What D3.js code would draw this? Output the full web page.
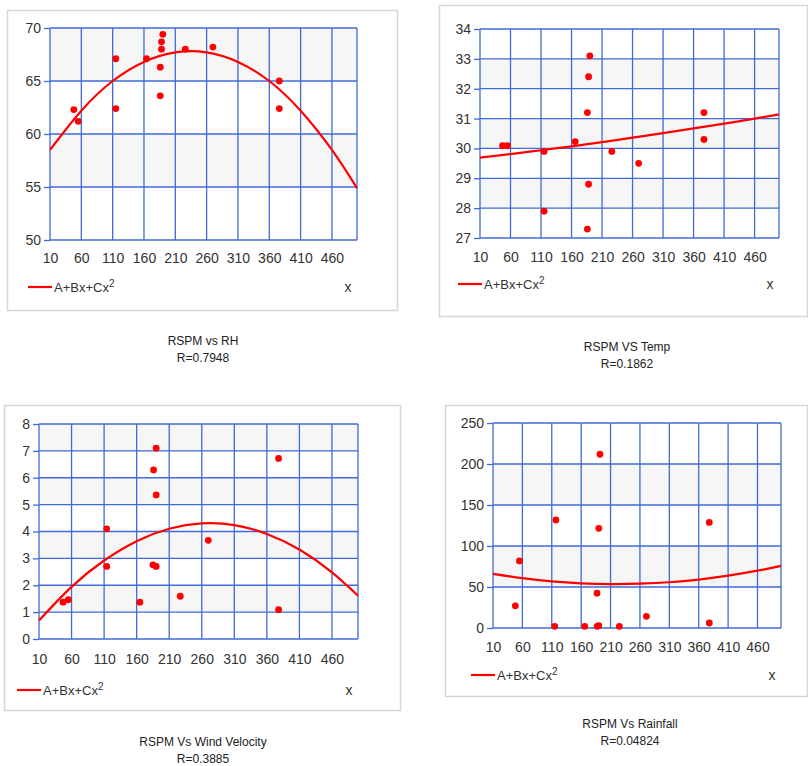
<!DOCTYPE html>
<html>
<head>
<meta charset="utf-8">
<script src="https://cdn.jsdelivr.net/npm/d3@7"></script>
<style>
  body { margin: 0; background: #fff; }
  svg text { font-family: "Liberation Sans", Arial, sans-serif; }
</style>
</head>
<body>
<script>

// x axis shared by all four fits (RSPM)
const xTicks = [10, 60, 110, 160, 210, 260, 310, 360, 410, 460];
const xMax = 500;
const curveX = [10, 60, 110, 160, 210, 260, 310, 360, 410, 460, 500];

// RSPM vs RH
const rhX = [48, 55, 115, 115, 164, 186, 186, 188, 188, 190, 226, 270, 376, 376];
const rhY = [62.3, 61.2, 67.1, 62.4, 67.1, 66.3, 63.6, 68.0, 68.7, 69.4, 68.0, 68.2, 65.0, 62.4];
const rhFit = [58.5, 62.2, 65.0, 66.8, 67.7, 67.7, 66.8, 65.0, 62.2, 58.5, 54.9];
const rhTicks = [50, 55, 60, 65, 70];

// RSPM vs Temp
const tempX = [47, 55, 115, 115, 166, 186, 186, 188, 188, 190, 226, 270, 377, 377];
const tempY = [30.09, 30.09, 29.9, 27.9, 30.23, 31.2, 27.3, 32.4, 28.8, 33.1, 29.9, 29.5, 31.2, 30.3];
const tempFit = [29.69, 29.81, 29.94, 30.07, 30.21, 30.36, 30.51, 30.67, 30.83, 31.0, 31.14];
const tempTicks = [27, 28, 29, 30, 31, 32, 33, 34];

// RSPM vs Wind Velocity
const windX = [47, 55, 114, 114, 165, 185, 186, 190, 190, 190, 227, 270, 378, 378];
const windY = [1.37, 1.46, 4.10, 2.70, 1.37, 2.76, 6.29, 7.10, 5.36, 2.70, 1.59, 3.67, 6.72, 1.09];
const windFit = [0.69, 1.94, 2.92, 3.64, 4.10, 4.30, 4.24, 3.91, 3.33, 2.48, 1.61];
const windTicks = [0, 1, 2, 3, 4, 5, 6, 7, 8];

// RSPM vs Rainfall
const rainX = [48, 55, 115, 117, 166, 187, 187, 190, 190, 192, 225, 271, 378, 378];
const rainY = [27.1, 81.8, 2, 131.7, 2, 2, 42.5, 3, 121.6, 211.9, 2, 14.2, 128.8, 6.1];
const rainFit = [66.0, 60.8, 56.9, 54.5, 53.5, 54.0, 55.8, 59.1, 63.8, 69.9, 75.8];
const rainTicks = [0, 50, 100, 150, 200, 250];

const captions = [
  ["RSPM vs RH", "R=0.7948"],
  ["RSPM VS Temp", "R=0.1862"],
  ["RSPM Vs Wind Velocity", "R=0.3885"],
  ["RSPM Vs Rainfall", "R=0.04824"]
];

// layout of each panel: frame box, plot area, caption spot
const panels = [
  { xs: rhX, ys: rhY, fit: rhFit, ticks: rhTicks, cap: captions[0],
    box: [7, 10, 397, 310], plot: [50, 28, 357, 240], capX: 203, capY: 345, lab: 13, leg: 47 },
  { xs: tempX, ys: tempY, fit: tempFit, ticks: tempTicks, cap: captions[1],
    box: [439, 5, 807, 316], plot: [480, 29, 779, 238], capX: 627, capY: 351, lab: 14, leg: 46 },
  { xs: windX, ys: windY, fit: windFit, ticks: windTicks, cap: captions[2],
    box: [4, 405, 400, 710], plot: [39, 424, 358, 639], capX: 203, capY: 746, lab: 15, leg: 51 },
  { xs: rainX, ys: rainY, fit: rainFit, ticks: rainTicks, cap: captions[3],
    box: [445, 405, 807, 696], plot: [493, 423, 781, 628], capX: 630, capY: 728, lab: 14, leg: 47 }
];

const gridColour = "#3f6bd6";
const bandColour = "#f6f6f6";
const red = "#ff0000";

const svg = d3.select("body").append("svg")
  .attr("width", 808)
  .attr("height", 766);

panels.forEach(p => {
  const [bx0, by0, bx1, by1] = p.box;
  const [px0, py0, px1, py1] = p.plot;

  // panel frame
  svg.append("rect")
    .attr("x", bx0 + 0.5).attr("y", by0 + 0.5)
    .attr("width", bx1 - bx0).attr("height", by1 - by0)
    .attr("fill", "#fff")
    .attr("stroke", "#d6d6d6")
    .attr("stroke-width", 1.5);

  const x = d3.scaleLinear().domain([xTicks[0], xMax]).range([px0, px1]);
  const y = d3.scaleLinear().domain(d3.extent(p.ticks)).range([py1, py0]);

  const g = svg.append("g");

  // alternating grey bands
  for (let i = 1; i < p.ticks.length - 1; i += 2) {
    g.append("rect")
      .attr("x", px0).attr("width", px1 - px0)
      .attr("y", y(p.ticks[i + 1])).attr("height", y(p.ticks[i]) - y(p.ticks[i + 1]))
      .attr("fill", bandColour);
  }

  // grid lines
  g.selectAll(".vg").data(xTicks.concat([xMax])).join("line")
    .attr("x1", d => x(d)).attr("x2", d => x(d))
    .attr("y1", py0).attr("y2", py1)
    .attr("stroke", gridColour).attr("stroke-width", 1.3);
  g.selectAll(".hg").data(p.ticks).join("line")
    .attr("x1", px0).attr("x2", px1)
    .attr("y1", d => y(d)).attr("y2", d => y(d))
    .attr("stroke", gridColour).attr("stroke-width", 1.3);

  // y axis
  const ya = g.append("g")
    .attr("transform", `translate(${px0},0)`)
    .call(d3.axisLeft(y).tickValues(p.ticks).tickSize(6).tickPadding(3).tickFormat(d3.format("d")));
  ya.select(".domain").remove();
  ya.selectAll("line").attr("stroke", gridColour).attr("stroke-width", 1.3);
  ya.selectAll("text").attr("font-size", 14).attr("fill", "#333");

  // x axis
  const xa = g.append("g")
    .attr("transform", `translate(0,${py1})`)
    .call(d3.axisBottom(x).tickValues(xTicks).tickSize(0).tickPadding(p.lab).tickFormat(d3.format("d")));
  xa.select(".domain").remove();
  xa.selectAll("text").attr("font-size", 14).attr("fill", "#333");

  // fitted curve
  g.append("path")
    .datum(curveX.map((cx, i) => [cx, p.fit[i]]))
    .attr("fill", "none")
    .attr("stroke", red)
    .attr("stroke-width", 2.2)
    .attr("d", d3.line().x(d => x(d[0])).y(d => y(d[1])).curve(d3.curveNatural));

  // points
  g.selectAll(".pt").data(p.xs.map((v, i) => [v, p.ys[i]])).join("circle")
    .attr("cx", d => x(d[0])).attr("cy", d => y(d[1]))
    .attr("r", 3.4)
    .attr("fill", red);

  // legend
  const ly = py1 + p.leg;
  g.append("line")
    .attr("x1", px0 - 22).attr("x2", px0 + 2)
    .attr("y1", ly).attr("y2", ly)
    .attr("stroke", red).attr("stroke-width", 2.2);
  const lt = g.append("text")
    .attr("x", px0 + 4).attr("y", ly + 4.5)
    .attr("font-size", 13).attr("fill", "#333");
  lt.append("tspan").text("A+Bx+Cx");
  lt.append("tspan").attr("dy", -5).attr("font-size", 10).text("2");
  g.append("text")
    .attr("x", px1 - 9).attr("y", ly + 5)
    .attr("text-anchor", "middle")
    .attr("font-size", 14).attr("fill", "#333")
    .text("x");

  // caption
  const ct = svg.append("text")
    .attr("text-anchor", "middle")
    .attr("font-size", 12).attr("fill", "#222");
  ct.append("tspan").attr("x", p.capX).attr("y", p.capY).text(p.cap[0]);
  ct.append("tspan").attr("x", p.capX).attr("y", p.capY + 17).text(p.cap[1]);
});

</script>
</body>
</html>
